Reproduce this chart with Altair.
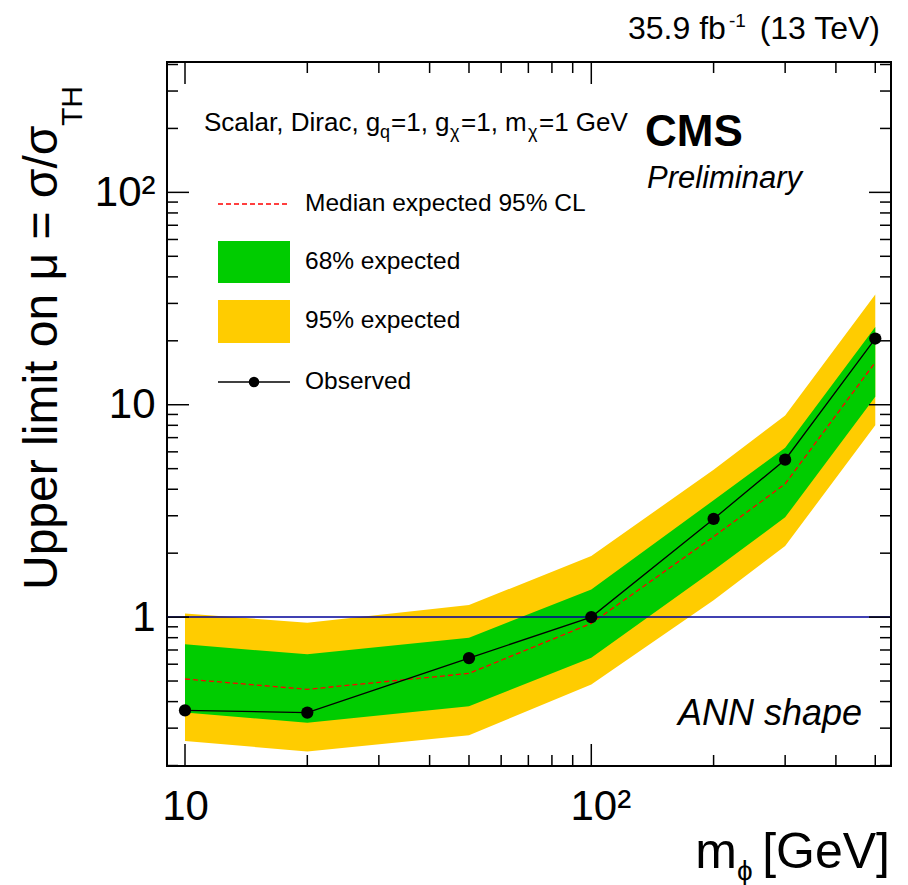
import altair as alt
import pandas as pd

# ---------------- data ----------------
mass = [10, 20, 50, 100, 200, 300, 500]
observed = [0.364, 0.355, 0.641, 1.00, 2.90, 5.51, 20.5]
expected = [0.511, 0.457, 0.543, 0.934, 2.39, 4.24, 15.85]
exp68_lo = [0.355, 0.318, 0.380, 0.644, 1.66, 2.95, 10.9]
exp68_hi = [0.744, 0.668, 0.800, 1.35, 3.55, 6.27, 23.2]
exp95_lo = [0.261, 0.233, 0.278, 0.482, 1.20, 2.16, 8.01]
exp95_hi = [1.04, 0.941, 1.139, 1.94, 4.94, 8.90, 33.0]

y_major = [1, 10, 100]
y_minor = [0.2, 0.3, 0.4, 0.5, 0.6, 0.7, 0.8, 0.9,
           2, 3, 4, 5, 6, 7, 8, 9,
           20, 30, 40, 50, 60, 70, 80, 90,
           200, 300, 400]
x_major = [10, 100]
x_minor = [20, 30, 40, 50, 60, 70, 80, 90, 200, 300, 400, 500]

x_domain = [9.03, 546.6]
y_domain = [0.199, 411]

# ---------------- layout ----------------
W, H = 724, 704
FONT = "Liberation Sans"

df = pd.DataFrame(dict(mass=mass, obs=observed, exp=expected,
                       lo68=exp68_lo, hi68=exp68_hi,
                       lo95=exp95_lo, hi95=exp95_hi))

xs = alt.Scale(type="log", domain=x_domain, nice=False)
ys = alt.Scale(type="log", domain=y_domain, nice=False)

xaxis = alt.Axis(values=x_major, labelExpr="datum.value >= 100 ? '10²' : '10'",
                 title=None, grid=False, ticks=False, domain=False,
                 labelFont=FONT, labelFontSize=42, labelPadding=20,
                 labelOffset={"condition": {"test": "datum.value >= 100", "value": 9}, "value": 0},
                 labelColor="black", labelFlush=False, labelOverlap=False)
yaxis = alt.Axis(values=y_major,
                 labelExpr="datum.value >= 100 ? '10²' : (datum.value >= 10 ? '10' : '1')",
                 title=None, grid=False, ticks=False, domain=False,
                 labelFont=FONT, labelFontSize=42, labelPadding=12,
                 labelColor="black", labelFlush=False, labelOverlap=False)


def X(f):
    return alt.X(f, scale=xs, axis=xaxis)


def Y(f):
    return alt.Y(f, scale=ys, axis=yaxis)


base = alt.Chart(df)

band95 = base.mark_area(color="#ffcc00", opacity=1).encode(
    x=X("mass:Q"), y=Y("lo95:Q"), y2="hi95:Q")
band68 = base.mark_area(color="#00cc00", opacity=1).encode(
    x=X("mass:Q"), y=Y("lo68:Q"), y2="hi68:Q")
exp_line = base.mark_line(color="#ff0000", strokeDash=[5, 3], strokeWidth=1.3).encode(
    x=X("mass:Q"), y=Y("exp:Q"))
unity = alt.Chart(pd.DataFrame({"v": [1]})).mark_rule(
    color="#000099", strokeWidth=1.5).encode(y=Y("v:Q"))
obs_line = base.mark_line(color="black", strokeWidth=1.3).encode(
    x=X("mass:Q"), y=Y("obs:Q"))
obs_pts = base.mark_circle(color="black", size=150, opacity=1).encode(
    x=X("mass:Q"), y=Y("obs:Q"))

layers = [band95, band68, exp_line, unity, obs_line, obs_pts]


# ---------------- inside ticks (ROOT style) ----------------
def yticks(vals, length):
    d = alt.Chart(pd.DataFrame({"v": vals}))
    left = d.mark_rule(color="black", strokeWidth=1.5).encode(
        y=Y("v:Q"), x=alt.value(0), x2=alt.value(length))
    right = d.mark_rule(color="black", strokeWidth=1.5).encode(
        y=Y("v:Q"), x=alt.value(W), x2=alt.value(W - length))
    return [left, right]


def xticks(vals, length):
    d = alt.Chart(pd.DataFrame({"v": vals}))
    bottom = d.mark_rule(color="black", strokeWidth=1.5).encode(
        x=X("v:Q"), y=alt.value(H), y2=alt.value(H - length))
    top = d.mark_rule(color="black", strokeWidth=1.5).encode(
        x=X("v:Q"), y=alt.value(0), y2=alt.value(length))
    return [bottom, top]


layers += yticks(y_major, 22) + yticks(y_minor, 11)
layers += xticks(x_major, 22) + xticks(x_minor, 11)


# ---------------- text ----------------
def text(t, x, y, size, align="left", baseline="alphabetic", angle=0,
         style="normal", weight="normal", color="black"):
    return alt.Chart(pd.DataFrame({"t": [t]})).mark_text(
        font=FONT, fontSize=size, align=align, baseline=baseline, angle=angle,
        fontStyle=style, fontWeight=weight, color=color).encode(
        text="t:N", x=alt.value(x), y=alt.value(y))


# luminosity label (fb^-1 with raised superscript)
layers += [
    text("35.9 fb", 461, -23, 32),
    text("-1", 562, -35, 19),
    text("(13 TeV)", 713, -23, 32, align="right"),
]

# model annotation with subscripts
ann_y, sub_y = 69, 76
layers += [
    text("Scalar, Dirac, g", 37, ann_y, 26),
    text("q", 213, sub_y, 18),
    text("=1, g", 224, ann_y, 26),
    text("χ", 283, sub_y, 18),
    text("=1, m", 294, ann_y, 26),
    text("χ", 361, sub_y, 18),
    text("=1 GeV", 372, ann_y, 26),
]

# CMS labels
layers.append(text("CMS", 478, 84, 44, weight="bold"))
layers.append(text("Preliminary", 480, 126, 31, style="italic"))
layers.append(text("ANN shape", 695, 663, 36, align="right", style="italic"))

# legend
leg_font = 24.5
layers.append(alt.Chart(pd.DataFrame({"t": ["Median expected 95% CL"]})).mark_rule(
    color="#ff0000", strokeDash=[5, 3], strokeWidth=1.3).encode(
    x=alt.value(51), x2=alt.value(123), y=alt.value(142)))
layers.append(text("Median expected 95% CL", 138, 142, leg_font, baseline="middle"))
layers.append(alt.Chart(pd.DataFrame({"t": ["68% expected"]})).mark_rect(
    color="#00cc00").encode(x=alt.value(51), x2=alt.value(123),
                           y=alt.value(179), y2=alt.value(221)))
layers.append(text("68% expected", 138, 200, leg_font, baseline="middle"))
layers.append(alt.Chart(pd.DataFrame({"t": ["95% expected"]})).mark_rect(
    color="#ffcc00").encode(x=alt.value(51), x2=alt.value(123),
                           y=alt.value(238), y2=alt.value(281)))
layers.append(text("95% expected", 138, 259, leg_font, baseline="middle"))
layers.append(alt.Chart(pd.DataFrame({"t": ["Observed"]})).mark_rule(
    color="black", strokeWidth=1.3).encode(
    x=alt.value(51), x2=alt.value(123), y=alt.value(320)))
layers.append(alt.Chart(pd.DataFrame({"t": ["Observed"]})).mark_circle(
    color="black", size=110, opacity=1).encode(x=alt.value(87), y=alt.value(320)))
layers.append(text("Observed", 138, 320, leg_font, baseline="middle"))

# axis titles
layers.append(text("Upper limit on μ = σ/σ", -110, 528, 48, angle=270))
layers.append(text("TH", -85, 64, 30, angle=270))
layers += [
    text("m", 570, 806, 50, align="right"),
    text("ϕ", 570, 818, 28),
    text(" [GeV]", 723, 806, 50, align="right"),
]

chart = alt.layer(*layers).properties(
    width=W, height=H,
    padding={"left": 167, "top": 62, "right": 17, "bottom": 119},
    autosize="none",
    background="white",
).configure_view(stroke="black", strokeWidth=2)

chart.save("out.html", embed_options={"renderer": "svg", "actions": False})
